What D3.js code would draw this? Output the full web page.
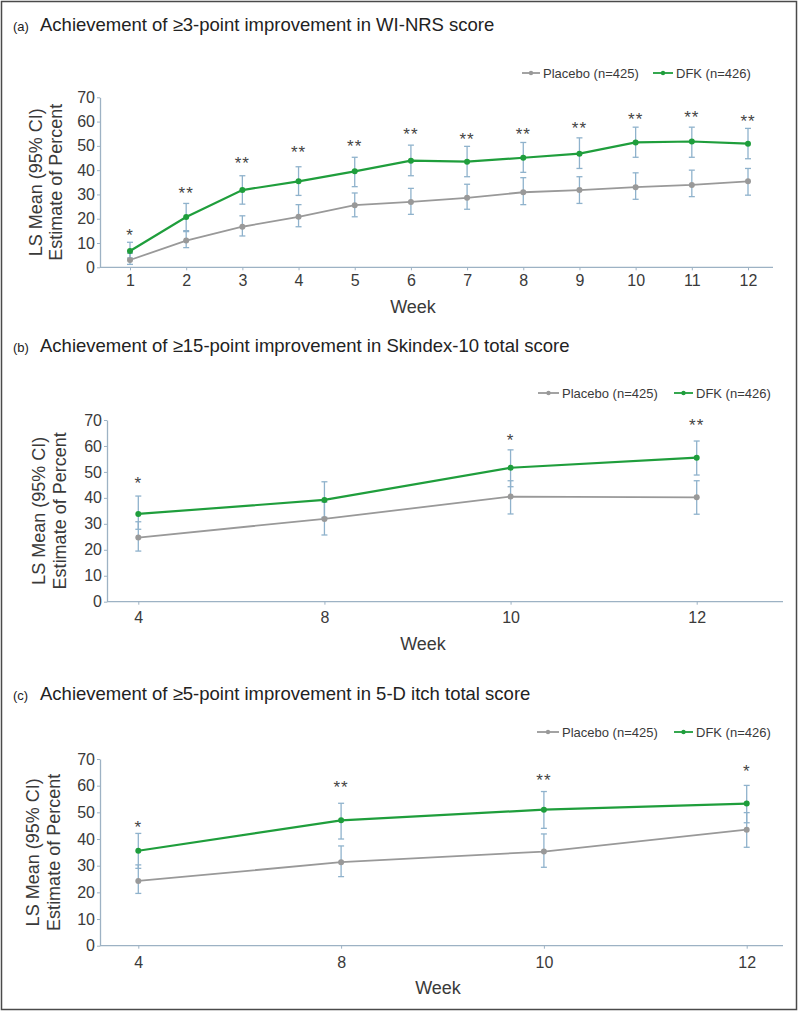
<!DOCTYPE html>
<html><head><meta charset="utf-8">
<script src="https://cdn.jsdelivr.net/npm/d3@7"></script>
<style>
body{margin:0;background:#fff;}
svg{display:block;font-family:"Liberation Sans",Arial,sans-serif;}
</style></head>
<body><svg id="chart" width="800" height="1012"></svg>
<script>
// ---------- DATA ----------
const seriesNames = ["Placebo (n=425)", "DFK (n=426)"];
const yTicks = [0,10,20,30,40,50,60,70];

// Panel (a)
const titleA = "Achievement of \u22653-point improvement in WI-NRS score";
const weeksA = ["1","2","3","4","5","6","7","8","9","10","11","12"];
const plaA    = [3.0, 11.0, 16.7, 20.8, 25.6, 26.9, 28.6, 30.9, 31.8, 33.0, 33.9, 35.4];
const plaA_lo = [1.2,  8.1, 12.9, 16.7, 20.8, 21.8, 23.9, 25.8, 26.3, 28.0, 29.1, 29.7];
const plaA_hi = [5.8, 15.1, 21.2, 25.8, 30.6, 32.5, 34.2, 36.9, 37.3, 38.9, 40.0, 40.7];
const dfkA    = [6.7, 20.7, 31.8, 35.4, 39.5, 43.9, 43.5, 45.1, 46.8, 51.4, 51.8, 50.9];
const dfkA_lo = [3.8, 14.7, 26.0, 29.6, 33.2, 37.7, 37.3, 39.1, 40.7, 45.3, 45.3, 44.7];
const dfkA_hi = [10.3, 26.3, 37.7, 41.4, 45.3, 50.3, 49.8, 51.4, 53.3, 57.7, 57.7, 57.2];
const sigA    = ["*","**","**","**","**","**","**","**","**","**","**","**"];
const sigA_at = [14.7, 32.2, 44.6, 49.2, 51.7, 56.5, 54.4, 56.5, 59.1, 62.7, 63.6, 61.7];

// Panel (b)
const titleB = "Achievement of \u226515-point improvement in Skindex-10 total score";
const weeksB = ["4","8","10","12"];
const plaB    = [24.7, 31.9, 40.5, 40.2];
const plaB_lo = [19.5, 25.7, 33.8, 33.7];
const plaB_hi = [30.8, 38.4, 46.6, 46.6];
const dfkB    = [33.8, 39.2, 51.6, 55.5];
const dfkB_lo = [27.9, 32.5, 44.3, 48.8];
const dfkB_hi = [40.7, 46.2, 58.5, 61.9];
const sigB    = ["*", "", "*", "**"];
const sigB_at = [47.3, null, 63.9, 69.4];

// Panel (c)
const titleC = "Achievement of \u22655-point improvement in 5-D itch total score";
const weeksC = ["4","8","10","12"];
const plaC    = [24.3, 31.3, 35.3, 43.5];
const plaC_lo = [19.6, 25.9, 29.4, 36.9];
const plaC_hi = [30.3, 37.4, 41.9, 49.9];
const dfkC    = [35.6, 47.0, 51.0, 53.3];
const dfkC_lo = [29.0, 40.0, 44.0, 46.1];
const dfkC_hi = [42.1, 53.4, 57.8, 60.1];
const sigC    = ["*", "**", "**", "*"];
const sigC_at = [45.9, 60.9, 63.4, 66.9];

// ---------- STYLE ----------
const GREEN = "#1f9e3c", GRAY = "#999999", ERR = "#8fb2cc", AXIS = "#9db2c4", TXT = "#3a3a3a";

const svg = d3.select("#chart");
svg.append("rect").attr("x",1.5).attr("y",1.5).attr("width",795).attr("height",1008)
  .attr("fill","#fff").attr("stroke","#4a4a4a").attr("stroke-width",1.5);

function panel(cfg){
  const g = svg.append("g");
  // title
  g.append("text").attr("x",13).attr("y",cfg.titleY).attr("font-size",13).attr("fill","#222").text(cfg.letter);
  g.append("text").attr("x",40).attr("y",cfg.titleY).attr("font-size",18.5).attr("fill","#222").text(cfg.title);

  const y = d3.scaleLinear().domain([0,70]).range([cfg.y0, cfg.y70]);
  const x = d3.scalePoint().domain(cfg.weeks).range(cfg.xr);

  // y axis
  const ya = g.append("g").attr("transform",`translate(${cfg.ax},0)`)
    .call(d3.axisLeft(y).tickValues(yTicks).tickSize(3).tickSizeOuter(0).tickPadding(cfg.yPad));
  ya.select(".domain").attr("stroke",AXIS).attr("stroke-width",1.3);
  ya.selectAll(".tick line").attr("stroke",AXIS);
  ya.selectAll(".tick text").attr("font-size",16).attr("fill",TXT).attr("font-family","Liberation Sans, Arial, sans-serif");

  // x axis
  const xa = g.append("g").attr("transform",`translate(0,${cfg.y0})`)
    .call(d3.axisBottom(x).tickSize(3).tickSizeOuter(0).tickPadding(cfg.xPad));
  xa.select(".domain").remove();
  xa.insert("line",":first-child").attr("x1",cfg.ax).attr("x2",cfg.axEnd).attr("y1",0).attr("y2",0)
    .attr("stroke",AXIS).attr("stroke-width",1.3);
  xa.selectAll(".tick line").attr("stroke",AXIS);
  xa.selectAll(".tick text").attr("font-size",16).attr("fill",TXT).attr("font-family","Liberation Sans, Arial, sans-serif");

  // axis titles
  const cy = (cfg.y0 + cfg.y70)/2;
  const yt = g.append("text").attr("transform",`translate(${cfg.ytX},${cy}) rotate(-90)`)
    .attr("text-anchor","middle").attr("font-size",18).attr("fill",TXT);
  yt.append("tspan").attr("x",0).attr("dy",0).text("LS Mean (95% CI)");
  yt.append("tspan").attr("x",0).attr("dy",cfg.ytGap).text("Estimate of Percent");
  g.append("text").attr("x",cfg.weekX).attr("y",cfg.weekY).attr("text-anchor","middle")
    .attr("font-size",18).attr("fill",TXT).text("Week");

  // legend
  const lg = g.append("g");
  const items = [{name:seriesNames[0],col:GRAY,x1:cfg.leg[0],x2:cfg.leg[1]},
                 {name:seriesNames[1],col:GREEN,x1:cfg.leg[2],x2:cfg.leg[3]}];
  items.forEach(it=>{
    lg.append("line").attr("x1",it.x1).attr("x2",it.x2).attr("y1",cfg.legY).attr("y2",cfg.legY)
      .attr("stroke",it.col).attr("stroke-width",1.8);
    lg.append("circle").attr("cx",(it.x1+it.x2)/2).attr("cy",cfg.legY).attr("r",2.2).attr("fill",it.col);
    lg.append("text").attr("x",it.x2+3).attr("y",cfg.legY).attr("dy","0.36em")
      .attr("font-size",13).attr("fill",TXT).text(it.name);
  });

  const series = [
    {v:cfg.pla, lo:cfg.plaLo, hi:cfg.plaHi, col:GRAY, w:1.8},
    {v:cfg.dfk, lo:cfg.dfkLo, hi:cfg.dfkHi, col:GREEN, w:2.2}
  ];
  // error bars
  series.forEach(s=>{
    cfg.weeks.forEach((wk,i)=>{
      const xx = x(wk);
      g.append("line").attr("x1",xx).attr("x2",xx).attr("y1",y(s.lo[i])).attr("y2",y(s.hi[i]))
        .attr("stroke",ERR).attr("stroke-width",1.3);
      [s.lo[i], s.hi[i]].forEach(v=>{
        g.append("line").attr("x1",xx-3).attr("x2",xx+3).attr("y1",y(v)).attr("y2",y(v))
          .attr("stroke",ERR).attr("stroke-width",1.3);
      });
    });
  });
  // lines + points
  series.forEach(s=>{
    const line = d3.line().x((d,i)=>x(cfg.weeks[i])).y(d=>y(d));
    g.append("path").datum(s.v).attr("d",line).attr("fill","none").attr("stroke",s.col).attr("stroke-width",s.w);
    g.selectAll(null).data(s.v).enter().append("circle")
      .attr("cx",(d,i)=>x(cfg.weeks[i])).attr("cy",d=>y(d)).attr("r",3).attr("fill",s.col);
  });
  // significance
  cfg.weeks.forEach((wk,i)=>{
    if(!cfg.sig[i]) return;
    g.append("text").attr("x",x(wk)).attr("y",y(cfg.sigAt[i])).attr("dy","0.58em")
      .attr("text-anchor","middle").attr("font-size",17).attr("fill","#444")
      .attr("letter-spacing",1).text(cfg.sig[i]);
  });
}

panel({letter:"(a)", title:titleA, titleY:30.5, weeks:weeksA,
  pla:plaA, plaLo:plaA_lo, plaHi:plaA_hi, dfk:dfkA, dfkLo:dfkA_lo, dfkHi:dfkA_hi, sig:sigA, sigAt:sigA_at,
  y0:267.3, y70:97.3, ax:100, axEnd:773, xr:[130,748], yPad:2, xPad:4,
  ytX:41.5, ytGap:20.5, weekX:413, weekY:313, legY:73, leg:[522,540,653,673]});

panel({letter:"(b)", title:titleB, titleY:351.5, weeks:weeksB,
  pla:plaB, plaLo:plaB_lo, plaHi:plaB_hi, dfk:dfkB, dfkLo:dfkB_lo, dfkHi:dfkB_hi, sig:sigB, sigAt:sigB_at,
  y0:601.7, y70:420, ax:107, axEnd:783, xr:[138.3,696.7], yPad:2, xPad:6.5,
  ytX:44.5, ytGap:21.5, weekX:423, weekY:649.5, legY:393, leg:[538,559,674,693]});

panel({letter:"(c)", title:titleC, titleY:699.5, weeks:weeksC,
  pla:plaC, plaLo:plaC_lo, plaHi:plaC_hi, dfk:dfkC, dfkLo:dfkC_lo, dfkHi:dfkC_hi, sig:sigC, sigAt:sigC_at,
  y0:945.7, y70:759, ax:100, axEnd:783, xr:[138.3,746.7], yPad:2, xPad:8,
  ytX:38.5, ytGap:21, weekX:438, weekY:994, legY:732, leg:[537,559,674,693]});
</script></body></html>
